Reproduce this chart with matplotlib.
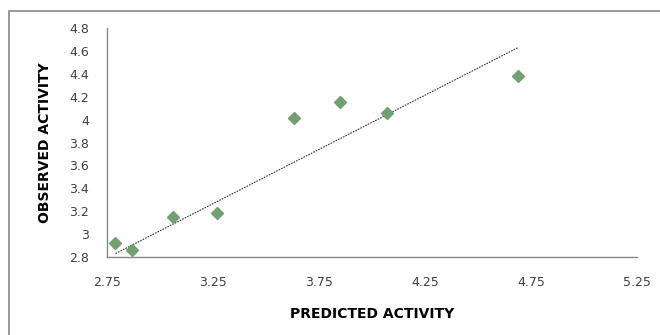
import numpy as np
import matplotlib.pyplot as plt
from matplotlib.patches import Rectangle

# predicted vs observed activity
predicted = [2.79, 2.87, 3.06, 3.27, 3.63, 3.85, 4.07, 4.69]
observed = [2.92, 2.86, 3.15, 3.18, 4.01, 4.15, 4.06, 4.38]
trend_x = [2.79, 4.69]
trend_y = [2.83, 4.63]

xticks = [2.75, 3.25, 3.75, 4.25, 4.75, 5.25]
yticks = [2.8, 3.0, 3.2, 3.4, 3.6, 3.8, 4.0, 4.2, 4.4, 4.6, 4.8]
ytick_labels = ["2.8", "3", "3.2", "3.4", "3.6", "3.8", "4", "4.2", "4.4", "4.6", "4.8"]

plt.rcParams['font.family'] = ['DejaVu Sans']

fig = plt.figure(figsize=(6.6, 3.35), dpi=100)
fig.patches.append(Rectangle((9/660, -0.1), 1.2, 1 - 11/335 + 0.1,
                             transform=fig.transFigure, fill=False,
                             edgecolor="#888888", lw=1.2))
ax = fig.add_axes([107/660, 1 - 257/335, 530/660, 229/335])

ax.plot(trend_x, trend_y, color="#333333", lw=0.8, ls=(0, (1.5, 1)))
ax.plot(predicted, observed, ls="none", marker="D", ms=6.5,
        color="#72A072", mec="#72A072")

ax.set_xlim(2.75, 5.25)
ax.set_ylim(2.8, 4.8)
ax.set_xticks(xticks)
ax.set_xticklabels([str(t) for t in xticks])
ax.set_yticks(yticks)
ax.set_yticklabels(ytick_labels)
ax.tick_params(axis="both", length=0, labelsize=9, colors="#404040")
ax.tick_params(axis="x", pad=14)
ax.tick_params(axis="y", pad=13)

for s in ["top", "right"]:
    ax.spines[s].set_visible(False)
for s in ["left", "bottom"]:
    ax.spines[s].set_color("#888888")
    ax.spines[s].set_linewidth(1.0)

ax.set_xlabel("PREDICTED ACTIVITY", fontsize=10, fontweight="bold",
              labelpad=13)
ax.set_ylabel("OBSERVED ACTIVITY", fontsize=10, fontweight="bold",
              labelpad=12)

fig.savefig("out.png", dpi=100)
